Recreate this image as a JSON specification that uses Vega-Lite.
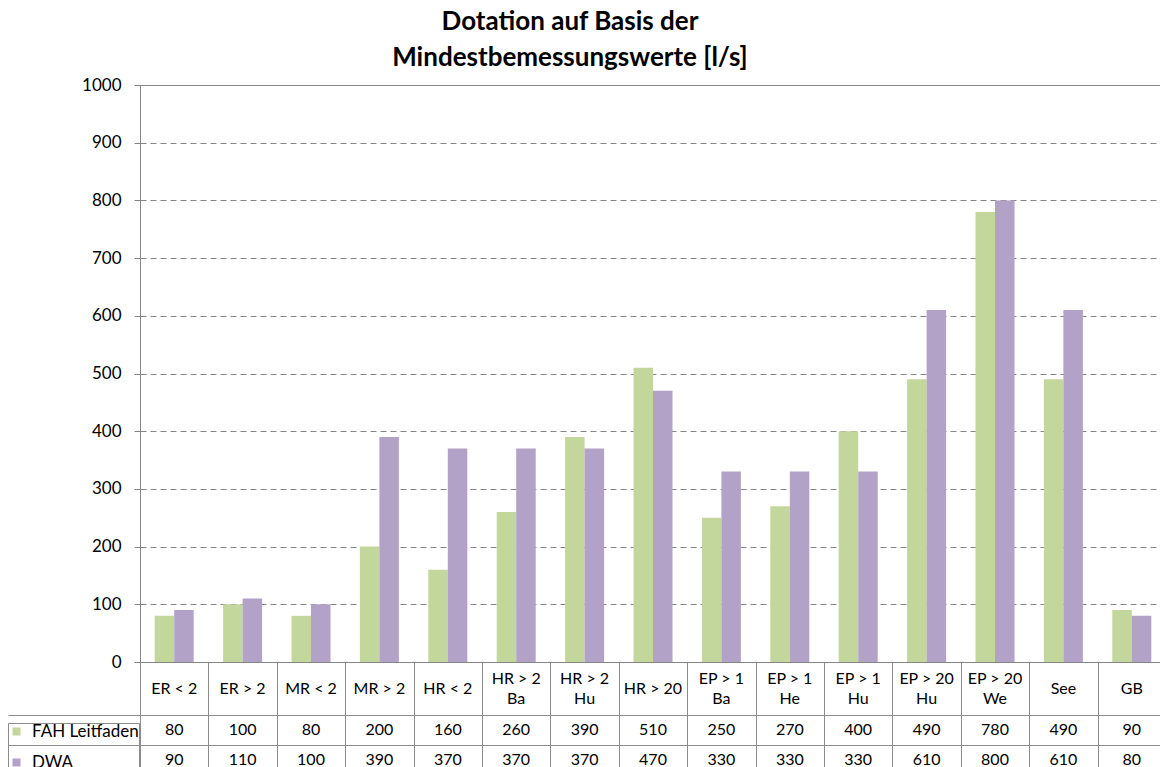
{
  "$schema": "https://vega.github.io/schema/vega-lite/v6.json",
  "width": 1026,
  "height": 577,
  "autosize": {"type": "none"},
  "padding": {"left": 140, "top": 85, "right": 0, "bottom": 105},
  "background": "white",
  "config": {
    "font": "Lato",
    "view": {"stroke": "#868686", "strokeWidth": 1},
    "axis": {"labelFont": "Lato", "labelColor": "#000000"}
  },
  "title": {
    "text": ["Dotation auf Basis der", "Mindestbemessungswerte [l/s]"],
    "font": "Lato",
    "fontSize": 26,
    "fontWeight": "bold",
    "color": "#000000",
    "lineHeight": 36,
    "offset": 5,
    "anchor": "middle",
    "dx": -83
  },
  "data": {
    "values": [
      {"category": "ER < 2", "series": "FAH Leitfaden", "value": 80},
      {"category": "ER > 2", "series": "FAH Leitfaden", "value": 100},
      {"category": "MR < 2", "series": "FAH Leitfaden", "value": 80},
      {"category": "MR > 2", "series": "FAH Leitfaden", "value": 200},
      {"category": "HR < 2", "series": "FAH Leitfaden", "value": 160},
      {"category": "HR > 2\nBa", "series": "FAH Leitfaden", "value": 260},
      {"category": "HR > 2\nHu", "series": "FAH Leitfaden", "value": 390},
      {"category": "HR > 20", "series": "FAH Leitfaden", "value": 510},
      {"category": "EP > 1\nBa", "series": "FAH Leitfaden", "value": 250},
      {"category": "EP > 1\nHe", "series": "FAH Leitfaden", "value": 270},
      {"category": "EP > 1\nHu", "series": "FAH Leitfaden", "value": 400},
      {"category": "EP > 20\nHu", "series": "FAH Leitfaden", "value": 490},
      {"category": "EP > 20\nWe", "series": "FAH Leitfaden", "value": 780},
      {"category": "See", "series": "FAH Leitfaden", "value": 490},
      {"category": "GB", "series": "FAH Leitfaden", "value": 90},
      {"category": "ER < 2", "series": "DWA", "value": 90},
      {"category": "ER > 2", "series": "DWA", "value": 110},
      {"category": "MR < 2", "series": "DWA", "value": 100},
      {"category": "MR > 2", "series": "DWA", "value": 390},
      {"category": "HR < 2", "series": "DWA", "value": 370},
      {"category": "HR > 2\nBa", "series": "DWA", "value": 370},
      {"category": "HR > 2\nHu", "series": "DWA", "value": 370},
      {"category": "HR > 20", "series": "DWA", "value": 470},
      {"category": "EP > 1\nBa", "series": "DWA", "value": 330},
      {"category": "EP > 1\nHe", "series": "DWA", "value": 330},
      {"category": "EP > 1\nHu", "series": "DWA", "value": 330},
      {"category": "EP > 20\nHu", "series": "DWA", "value": 610},
      {"category": "EP > 20\nWe", "series": "DWA", "value": 800},
      {"category": "See", "series": "DWA", "value": 610},
      {"category": "GB", "series": "DWA", "value": 80}
    ]
  },
  "layer": [
    {
      "mark": {"type": "bar"},
      "encoding": {
        "x": {
          "field": "category",
          "type": "nominal",
          "sort": null,
          "scale": {
            "domain": ["ER < 2", "ER > 2", "MR < 2", "MR > 2", "HR < 2", "HR > 2\nBa", "HR > 2\nHu", "HR > 20", "EP > 1\nBa", "EP > 1\nHe", "EP > 1\nHu", "EP > 20\nHu", "EP > 20\nWe", "See", "GB"],
            "paddingInner": 0,
            "paddingOuter": 0
          },
          "axis": {
            "title": null,
            "orient": "bottom",
            "tickBand": "extent",
            "tickSize": 110,
            "tickColor": "#8c8c8c",
            "domainColor": "#868686",
            "labels": false
          }
        },
        "xOffset": {
          "field": "series",
          "type": "nominal",
          "sort": ["FAH Leitfaden", "DWA"],
          "scale": {"paddingInner": 0, "paddingOuter": 0.754}
        },
        "y": {
          "field": "value",
          "type": "quantitative",
          "scale": {"domain": [0, 1000], "nice": false},
          "axis": {
            "title": null,
            "values": [0, 100, 200, 300, 400, 500, 600, 700, 800, 900, 1000],
            "format": "d",
            "tickSize": 6,
            "tickColor": "#868686",
            "domainColor": "#868686",
            "labelFontSize": 17,
            "labelPadding": 13,
            "labelColor": "#000000",
            "grid": true,
            "gridColor": "#868686",
            "gridDash": [6, 4]
          }
        },
        "color": {
          "field": "series",
          "type": "nominal",
          "sort": ["FAH Leitfaden", "DWA"],
          "scale": {"domain": ["FAH Leitfaden", "DWA"], "range": ["#c3d69b", "#b3a2c7"]},
          "legend": {
            "orient": "none",
            "legendX": -132,
            "legendY": 638,
            "direction": "vertical",
            "title": null,
            "symbolType": "square",
            "symbolSize": 64,
            "symbolStrokeWidth": 0,
            "symbolOpacity": 1,
            "labelFontSize": 17,
            "labelFont": "Lato",
            "labelColor": "#000000",
            "labelOffset": 7,
            "padding": 0,
            "rowPadding": 13,
            "strokeColor": "#8c8c8c"
          }
        }
      }
    },
    {
      "mark": {"type": "text", "font": "Lato", "fontSize": 16, "color": "#000000", "baseline": "middle"},
      "encoding": {
        "x": {"field": "category", "type": "nominal", "sort": null},
        "y": {
          "field": "series",
          "type": "nominal",
          "scale": {"type": "band", "domain": ["FAH Leitfaden", "DWA"], "range": [630, 690], "paddingInner": 0, "paddingOuter": 0},
          "axis": {
            "orient": "left",
            "title": null,
            "labels": false,
            "tickBand": "extent",
            "tickSize": 132,
            "tickColor": "#8c8c8c",
            "domain": false,
            "grid": true,
            "gridColor": "#8c8c8c",
            "gridDash": []
          }
        },
        "text": {"field": "value", "type": "quantitative"}
      }
    },
    {
      "transform": [{"filter": "datum.series == 'FAH Leitfaden' && indexof(datum.category, '\\n') < 0"}],
      "mark": {"type": "text", "font": "Lato", "fontSize": 16, "color": "#000000", "baseline": "middle"},
      "encoding": {
        "x": {"field": "category", "type": "nominal", "sort": null},
        "y": {
          "field": "series",
          "type": "nominal",
          "scale": {"type": "band", "domain": ["FAH Leitfaden"], "range": [577, 630], "paddingInner": 0, "paddingOuter": 0},
          "axis": null
        },
        "text": {"field": "category", "type": "nominal"}
      }
    },
    {
      "transform": [{"filter": "datum.series == 'FAH Leitfaden' && indexof(datum.category, '\\n') >= 0"}],
      "mark": {"type": "text", "font": "Lato", "fontSize": 16, "color": "#000000", "baseline": "middle", "lineBreak": "\n", "lineHeight": 20},
      "encoding": {
        "x": {"field": "category", "type": "nominal", "sort": null},
        "y": {
          "field": "series",
          "type": "nominal",
          "scale": {"type": "band", "domain": ["FAH Leitfaden"], "range": [567, 620], "paddingInner": 0, "paddingOuter": 0},
          "axis": null
        },
        "text": {"field": "category", "type": "nominal"}
      }
    }
  ],
  "resolve": {"scale": {"y": "independent"}, "axis": {"y": "independent"}}
}
